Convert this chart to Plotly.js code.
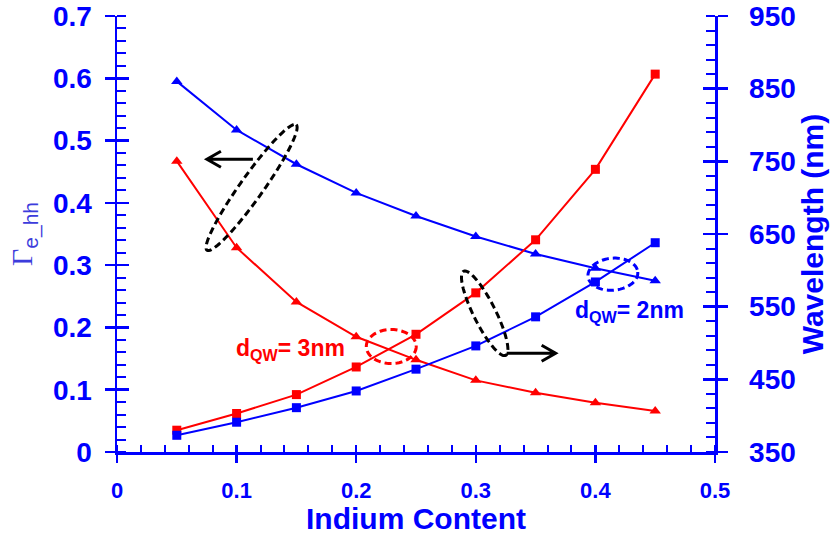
<!DOCTYPE html>
<html>
<head>
<meta charset="utf-8">
<script src="https://cdn.plot.ly/plotly-3.0.1.min.js"></script>
<style>html,body{margin:0;padding:0;background:#fff;}#chart{width:830px;height:535px;}</style>
</head>
<body>
<div id="chart"></div>
<script>
// ---- data ----
var indium = [0.05, 0.10, 0.15, 0.20, 0.25, 0.30, 0.35, 0.40, 0.45];
var gamma2nm = [0.595, 0.517, 0.462, 0.416, 0.379, 0.346, 0.318, 0.295, 0.275];
var gamma3nm = [0.467, 0.328, 0.241, 0.185, 0.148, 0.115, 0.095, 0.079, 0.066];
var wave2nm = [373, 391, 411, 434, 464, 496, 536, 584, 638];
var wave3nm = [380, 403, 429, 467, 512, 569, 642, 739, 870];
var xTickVals = [0, 0.1, 0.2, 0.3, 0.4, 0.5];
var y1TickVals = [0, 0.1, 0.2, 0.3, 0.4, 0.5, 0.6, 0.7];
var y2TickVals = [350, 450, 550, 650, 750, 850, 950];

var BLUE = '#0000ff', RED = '#ff0000';
var FONT = 'Arial, "Liberation Sans", sans-serif';

// plot-area geometry (px)
var L = 117, R = 715.5, T = 16, B = 452;
var PW = R - L, PH = B - T;
function px(x) { return (x - L) / PW; }
function py(y) { return (B - y) / PH; }

function ellipsePath(cx, cy, a, b, angDeg) {
  var th = angDeg * Math.PI / 180, n = 90, s = '';
  for (var i = 0; i <= n; i++) {
    var t = 2 * Math.PI * i / n;
    var x = cx + a * Math.cos(t) * Math.cos(th) - b * Math.sin(t) * Math.sin(th);
    var y = cy + a * Math.cos(t) * Math.sin(th) + b * Math.sin(t) * Math.cos(th);
    s += (i === 0 ? 'M' : 'L') + px(x).toFixed(5) + ',' + py(y).toFixed(5);
  }
  return s + 'Z';
}
function arrowPath(x1, y, x2) {
  var d = x2 > x1 ? -1 : 1;
  return 'M' + px(x1) + ',' + py(y) + 'L' + px(x2) + ',' + py(y) +
    'M' + px(x2 + d * 14) + ',' + py(y - 8) + 'L' + px(x2) + ',' + py(y) + 'L' + px(x2 + d * 14) + ',' + py(y + 8);
}

var traces = [
  {x: indium, y: gamma2nm, yaxis: 'y', mode: 'lines+markers', line: {color: BLUE, width: 2},
   marker: {symbol: 'triangle-up', size: 10, color: BLUE}},
  {x: indium, y: gamma3nm, yaxis: 'y', mode: 'lines+markers', line: {color: RED, width: 2},
   marker: {symbol: 'triangle-up', size: 10, color: RED}},
  {x: indium, y: wave3nm, yaxis: 'y2', mode: 'lines+markers', line: {color: RED, width: 2},
   marker: {symbol: 'square', size: 9, color: RED}},
  {x: indium, y: wave2nm, yaxis: 'y2', mode: 'lines+markers', line: {color: BLUE, width: 2},
   marker: {symbol: 'square', size: 9, color: BLUE}},
  // helpers so the tick-crossing overlay axes exist
  {x: [null], y: [null], xaxis: 'x2', yaxis: 'y', hoverinfo: 'skip', showlegend: false},
  {x: [null], y: [null], xaxis: 'x', yaxis: 'y3', hoverinfo: 'skip', showlegend: false},
  {x: [null], y: [null], xaxis: 'x', yaxis: 'y4', hoverinfo: 'skip', showlegend: false}
];

var layout = {
  width: 830, height: 535,
  margin: {l: L, r: 830 - R, t: T, b: 535 - B, pad: 0},
  paper_bgcolor: '#fff', plot_bgcolor: '#fff',
  showlegend: false,
  font: {family: FONT, color: BLUE},
  xaxis: {
    range: [0, 0.5], tickvals: xTickVals, showgrid: false, zeroline: false,
    showline: true, linecolor: BLUE, linewidth: 2.5,
    ticks: 'outside', ticklen: 8, tickwidth: 2.5, tickcolor: BLUE,
    minor: {tick0: 0, dtick: 0.02, ticks: 'inside', ticklen: 7, tickwidth: 2, tickcolor: BLUE, showgrid: false},
    tickfont: {family: FONT, size: 22, color: BLUE, weight: 'bold'},
    ticklabelstandoff: 9,
    title: {text: '<b>Indium Content</b>', font: {family: FONT, size: 30, color: BLUE}, standoff: 8}
  },
  xaxis2: {
    range: [0, 0.5], overlaying: 'x', anchor: 'y', side: 'bottom', tickvals: xTickVals,
    showticklabels: false, showgrid: false, zeroline: false, showline: false,
    ticks: 'inside', ticklen: 7, tickwidth: 2.5, tickcolor: BLUE
  },
  yaxis: {
    range: [0, 0.7], tickvals: y1TickVals, showgrid: false, zeroline: false,
    showline: true, linecolor: BLUE, linewidth: 2.5,
    ticks: 'outside', ticklen: 10, tickwidth: 2.5, tickcolor: BLUE,
    minor: {tick0: 0, dtick: 0.02, ticks: 'inside', ticklen: 9, tickwidth: 2, tickcolor: BLUE, showgrid: false},
    tickfont: {family: FONT, size: 28, color: BLUE, weight: 'bold'},
    ticklabelstandoff: 7,
    title: {text: '<span style="font-family:\'Liberation Serif\',serif">Γ</span><sub>e_hh</sub>',
            font: {family: FONT, size: 30, color: '#3c3cdc'}, standoff: 12}
  },
  yaxis3: {
    range: [0, 0.7], tickvals: y1TickVals, overlaying: 'y', side: 'left', anchor: 'x',
    showticklabels: false, showgrid: false, zeroline: false, showline: false,
    ticks: 'inside', ticklen: 12, tickwidth: 2.5, tickcolor: BLUE
  },
  yaxis2: {
    range: [350, 950], tickvals: y2TickVals, overlaying: 'y', side: 'right', anchor: 'x',
    showgrid: false, zeroline: false,
    showline: true, linecolor: BLUE, linewidth: 2.5,
    ticks: 'outside', ticklen: 10, tickwidth: 2.5, tickcolor: BLUE,
    minor: {tick0: 350, dtick: 20, ticks: 'inside', ticklen: 9, tickwidth: 2, tickcolor: BLUE, showgrid: false},
    tickfont: {family: FONT, size: 28, color: BLUE, weight: 'bold'},
    ticklabelstandoff: 16,
    title: {text: '<b>Wavelength (nm)</b>', font: {family: FONT, size: 30, color: BLUE}, standoff: 6}
  },
  yaxis4: {
    range: [350, 950], tickvals: y2TickVals, overlaying: 'y', side: 'right', anchor: 'x',
    showticklabels: false, showgrid: false, zeroline: false, showline: false,
    ticks: 'inside', ticklen: 12, tickwidth: 2.5, tickcolor: BLUE
  },
  shapes: [
    {type: 'path', xref: 'paper', yref: 'paper', path: ellipsePath(251.7, 187.5, 77, 11.5, -54.6),
     line: {color: '#000', width: 3, dash: '7px,4px'}},
    {type: 'path', xref: 'paper', yref: 'paper', path: ellipsePath(485, 313.3, 47, 11, 63.4),
     line: {color: '#000', width: 3, dash: '7px,4px'}},
    {type: 'path', xref: 'paper', yref: 'paper', path: ellipsePath(391.5, 346.5, 25, 17, 0),
     line: {color: RED, width: 3, dash: '7px,4px'}},
    {type: 'path', xref: 'paper', yref: 'paper', path: ellipsePath(613.3, 274.2, 25, 16, -5),
     line: {color: BLUE, width: 3, dash: '7px,4px'}},
    {type: 'path', xref: 'paper', yref: 'paper', path: arrowPath(253, 159.3, 207),
     line: {color: '#000', width: 3}},
    {type: 'path', xref: 'paper', yref: 'paper', path: arrowPath(507, 353.3, 556),
     line: {color: '#000', width: 3}}
  ],
  annotations: [
    {xref: 'paper', yref: 'paper', x: px(234), y: py(349), xanchor: 'left', yanchor: 'middle',
     text: 'd<sub>QW</sub>= 3nm', showarrow: false, font: {family: FONT, size: 23, color: RED, weight: 'bold'}},
    {xref: 'paper', yref: 'paper', x: px(573), y: py(312), xanchor: 'left', yanchor: 'middle',
     text: 'd<sub>QW</sub>= 2nm', showarrow: false, font: {family: FONT, size: 23, color: BLUE, weight: 'bold'}}
  ]
};

Plotly.newPlot('chart', traces, layout, {displayModeBar: false, staticPlot: true});
</script>
</body>
</html>
